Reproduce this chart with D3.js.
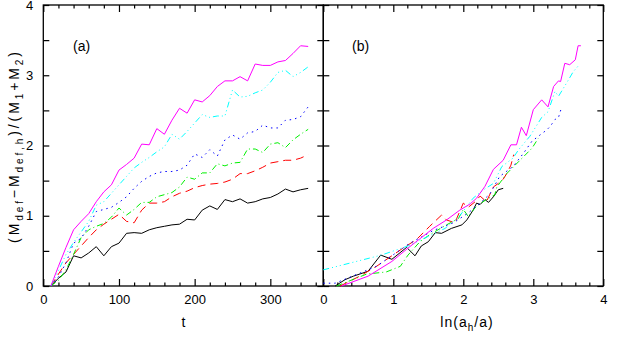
<!DOCTYPE html>
<meta charset="utf-8">
<style>
body { margin: 0; background: #fff; }
text { font-family: "Liberation Sans", Arial, sans-serif; fill: #000; }
.tick line { stroke: #000; stroke-width: 1.2px; }
.tick text { font-size: 13px; }
.frame { fill: none; stroke: #000; stroke-width: 1.3px; }
.curve { fill: none; stroke-width: 1px; }
.title { font-size: 14px; letter-spacing: 1px; }
.ytitle { font-size: 14px; letter-spacing: 2.9px; }
.plabel { font-size: 14px; }
</style>
<body>
<svg width="619" height="338"></svg>
<script src="https://d3js.org/d3.v7.min.js"></script>
<script>
// panel (a): time axis
var tVals = [10,20,30,40,50,60,70,80,90,100,110,120,130,140,150,160,170,180,190,200,
             210,220,230,240,250,260,270,280,290,300,310,320,330,340,350];

var blackA = [0,0.11,0.20,0.43,0.40,0.47,0.56,0.43,0.56,0.61,0.75,0.76,0.75,0.80,0.83,0.85,0.87,0.88,0.95,0.94,
              1.08,1.14,1.09,1.23,1.20,1.24,1.18,1.20,1.24,1.26,1.31,1.38,1.34,1.37,1.39];
var redA = [0,0.17,0.33,0.45,0.57,0.69,0.80,0.88,0.95,1.02,0.92,0.90,1.08,1.18,1.18,1.20,1.27,1.32,1.35,1.40,
            1.43,1.45,1.46,1.48,1.52,1.60,1.60,1.64,1.69,1.75,1.77,1.79,1.79,1.82,1.87];
var greenA = [0,0.08,0.23,0.45,0.69,0.80,0.85,0.89,0.98,1.11,1.01,1.09,1.19,1.19,1.27,1.30,1.33,1.41,1.55,1.52,
              1.61,1.61,1.74,1.71,1.75,1.76,1.95,1.95,1.90,2.02,2.04,1.97,2.08,2.16,2.23];
var blueA = [0,0.13,0.33,0.61,0.68,0.85,1.06,1.09,1.12,1.19,1.27,1.39,1.49,1.56,1.61,1.63,1.63,1.65,1.72,1.88,
             1.83,1.94,1.85,2.08,2.15,2.09,2.18,2.20,2.29,2.25,2.25,2.36,2.37,2.41,2.55];
var cyanA = [0,0.22,0.45,0.62,0.77,0.92,1.15,1.20,1.32,1.44,1.56,1.68,1.76,1.83,1.91,1.98,2.16,2.09,2.20,2.32,
             2.44,2.40,2.42,2.42,2.79,2.69,2.70,2.75,2.79,2.90,3.04,3.07,2.98,3.04,3.12];
var magentaA = [0,0.28,0.55,0.80,0.92,1.03,1.20,1.34,1.44,1.65,1.73,1.82,2.02,2.01,2.24,2.16,2.36,2.53,2.46,2.65,
                2.62,2.71,2.84,2.92,2.92,2.98,2.92,3.16,3.14,3.14,3.19,3.21,3.31,3.42,3.41];

// panel (b): [ln(a_h/a), value]
var blackB = [[0.17,0],[0.31,0.09],[0.43,0.14],[0.64,0.21],[0.82,0.44],[0.98,0.38],[1.19,0.55],[1.31,0.43],
              [1.40,0.57],[1.50,0.63],[1.60,0.76],[1.69,0.75],[1.83,0.82],[1.98,0.87],[2.05,0.94],[2.14,1.08],
              [2.19,1.18],[2.24,1.16],[2.31,1.23],[2.36,1.19],[2.43,1.27],[2.50,1.37],[2.57,1.39]];
var redB = [[0.24,0],[0.52,0.14],[0.76,0.28],[1.14,0.54],[1.33,0.66],[1.52,0.85],[1.69,1.01],[1.76,0.94],
            [1.88,0.90],[2.00,1.18],[2.07,1.12],[2.17,1.20],[2.24,1.28],[2.33,1.20],[2.43,1.41],[2.50,1.46],
            [2.57,1.52],[2.62,1.60],[2.68,1.72],[2.72,1.87]];
var greenB = [[0.19,0],[0.62,0.17],[0.90,0.20],[1.10,0.28],[1.21,0.44],[1.38,0.63],[1.52,0.73],[1.76,0.87],
              [1.93,0.96],[2.00,1.09],[2.07,0.99],[2.19,1.14],[2.33,1.23],[2.45,1.30],[2.48,1.41],[2.62,1.60],
              [2.79,1.77],[2.98,1.96],[3.07,2.10]];
var blueB = [[0,0.04],[0.17,0.04],[0.76,0.28],[1.24,0.61],[1.57,0.79],[1.86,0.90],[2.07,1.04],[2.24,1.18],
             [2.38,1.31],[2.52,1.56],[2.71,1.70],[2.86,1.89],[2.98,2.06],[3.07,2.13],[3.19,2.22],[3.24,2.27],
             [3.31,2.37],[3.36,2.40],[3.40,2.53]];
var cyanB = [[0,0.23],[0.83,0.44],[1.21,0.57],[1.74,0.82],[1.95,1.00],[2.14,1.25],[2.29,1.37],[2.43,1.46],
             [2.55,1.70],[2.71,1.82],[2.79,1.94],[2.95,2.13],[3.12,2.40],[3.21,2.48],[3.31,2.77],[3.36,2.70],
             [3.50,2.93],[3.57,3.05],[3.64,3.13]];
var magentaB = [[0.26,0],[0.64,0.14],[0.98,0.35],[1.21,0.54],[1.57,0.82],[1.76,0.94],[1.95,1.08],[2.10,1.17],
                [2.19,1.25],[2.31,1.42],[2.43,1.66],[2.57,1.79],[2.68,2.01],[2.76,2.01],[2.83,2.26],[2.90,2.14],
                [3.00,2.51],[3.12,2.65],[3.21,2.55],[3.29,2.84],[3.36,2.92],[3.39,2.91],[3.45,3.17],[3.52,3.15],
                [3.60,3.22],[3.64,3.42],[3.68,3.42]];

// ticks
var yMajor = [0,1,2,3,4];
var yMinor = [0.5,1.5,2.5,3.5];
var xMajorA = [0,100,200,300];
var xMinorA = [20,40,60,80,120,140,160,180,220,240,260,280,320,340,360];
var xMajorB = [0,1,2,3,4];
var xMinorB = [0.2,0.4,0.6,0.8,1.2,1.4,1.6,1.8,2.2,2.4,2.6,2.8,3.2,3.4,3.6,3.8];

var series = [
  {a: blackA,   b: blackB,   color: "#000000", dash: null},
  {a: redA,     b: redB,     color: "#ff0000", dash: "8,5"},
  {a: greenA,   b: greenB,   color: "#00f000", dash: "6,3,1,3"},
  {a: blueA,    b: blueB,    color: "#0000ff", dash: "1.5,4"},
  {a: cyanA,    b: cyanB,    color: "#00ffff", dash: "6,3,1,3,1,3,1,3"},
  {a: magentaA, b: magentaB, color: "#ff00ff", dash: null}
];

var svg = d3.select("svg");
svg.append("rect").attr("width", 619).attr("height", 338).attr("fill", "#fff");

var yTop = 5, yBot = 286;
var xA = d3.scaleLinear().domain([0, 370]).range([43.3, 323.3]);
var xB = d3.scaleLinear().domain([0, 4]).range([323.3, 603.3]);
var y = d3.scaleLinear().domain([0, 4]).range([yBot, yTop]);

function axes(x, xMajor, xMinor, yLabels) {
  var g = svg.append("g");
  var x0 = x.range()[0], x1 = x.range()[1];
  // bottom
  g.append("g").attr("transform", "translate(0," + yBot + ")")
    .call(d3.axisBottom(x).tickValues(xMajor).tickSize(-7).tickPadding(9).tickFormat(d3.format("d")));
  g.append("g").attr("transform", "translate(0," + yBot + ")")
    .call(d3.axisBottom(x).tickValues(xMinor).tickSize(-3.5).tickFormat(""));
  // top
  g.append("g").attr("transform", "translate(0," + yTop + ")")
    .call(d3.axisTop(x).tickValues(xMajor).tickSize(-7).tickFormat(""));
  g.append("g").attr("transform", "translate(0," + yTop + ")")
    .call(d3.axisTop(x).tickValues(xMinor).tickSize(-3.5).tickFormat(""));
  // left
  g.append("g").attr("transform", "translate(" + x0 + ",0)")
    .call(d3.axisLeft(y).tickValues(yMajor.concat(yMinor)).tickSize(-6).tickPadding(10)
      .tickFormat(function(d) { return yLabels && d % 1 === 0 ? d : ""; }));
  // right
  g.append("g").attr("transform", "translate(" + x1 + ",0)")
    .call(d3.axisRight(y).tickValues(yMajor.concat(yMinor)).tickSize(-6).tickFormat(""));
  g.selectAll(".domain").remove();
  g.append("rect").attr("class", "frame")
    .attr("x", x0).attr("y", yTop).attr("width", x1 - x0).attr("height", yBot - yTop);
}

axes(xA, xMajorA, xMinorA, true);
axes(xB, xMajorB, xMinorB, false);

var lineA = d3.line().x(function(d, i) { return xA(tVals[i]); }).y(function(d) { return y(d); });
var lineB = d3.line().x(function(d) { return xB(d[0]); }).y(function(d) { return y(d[1]); });

series.forEach(function(s) {
  svg.append("path").datum(s.a).attr("class", "curve")
    .attr("stroke", s.color).attr("stroke-dasharray", s.dash).attr("d", lineA);
  svg.append("path").datum(s.b).attr("class", "curve")
    .attr("stroke", s.color).attr("stroke-dasharray", s.dash).attr("d", lineB);
});

// panel labels
svg.append("text").attr("class", "plabel").attr("x", 73).attr("y", 51).text("(a)");
svg.append("text").attr("class", "plabel").attr("x", 352).attr("y", 51).text("(b)");

// axis titles
svg.append("text").attr("class", "title").attr("x", 184).attr("y", 327)
  .attr("text-anchor", "middle").text("t");

var lt = svg.append("text").attr("class", "title").attr("x", 467).attr("y", 327).attr("text-anchor", "middle");
lt.append("tspan").text("ln(a");
lt.append("tspan").attr("dy", 4).attr("font-size", 10).text("h");
lt.append("tspan").attr("dy", -4).text("/a)");

var yt = svg.append("text").attr("class", "ytitle")
  .attr("transform", "translate(19,146) rotate(-90)").attr("text-anchor", "middle");
[["(M", 0, null], ["def", 4, 10], ["\u2212M", -4, null], ["def,h", 4, 10], [")/(M", -4, null],
 ["1", 4, 10], ["+M", -4, null], ["2", 4, 10], [")", -4, null]].forEach(function(p, i) {
  var ts = yt.append("tspan").text(p[0]);
  if (i > 0) ts.attr("dy", p[1]);
  if (p[2]) ts.attr("font-size", p[2]);
});
</script>
